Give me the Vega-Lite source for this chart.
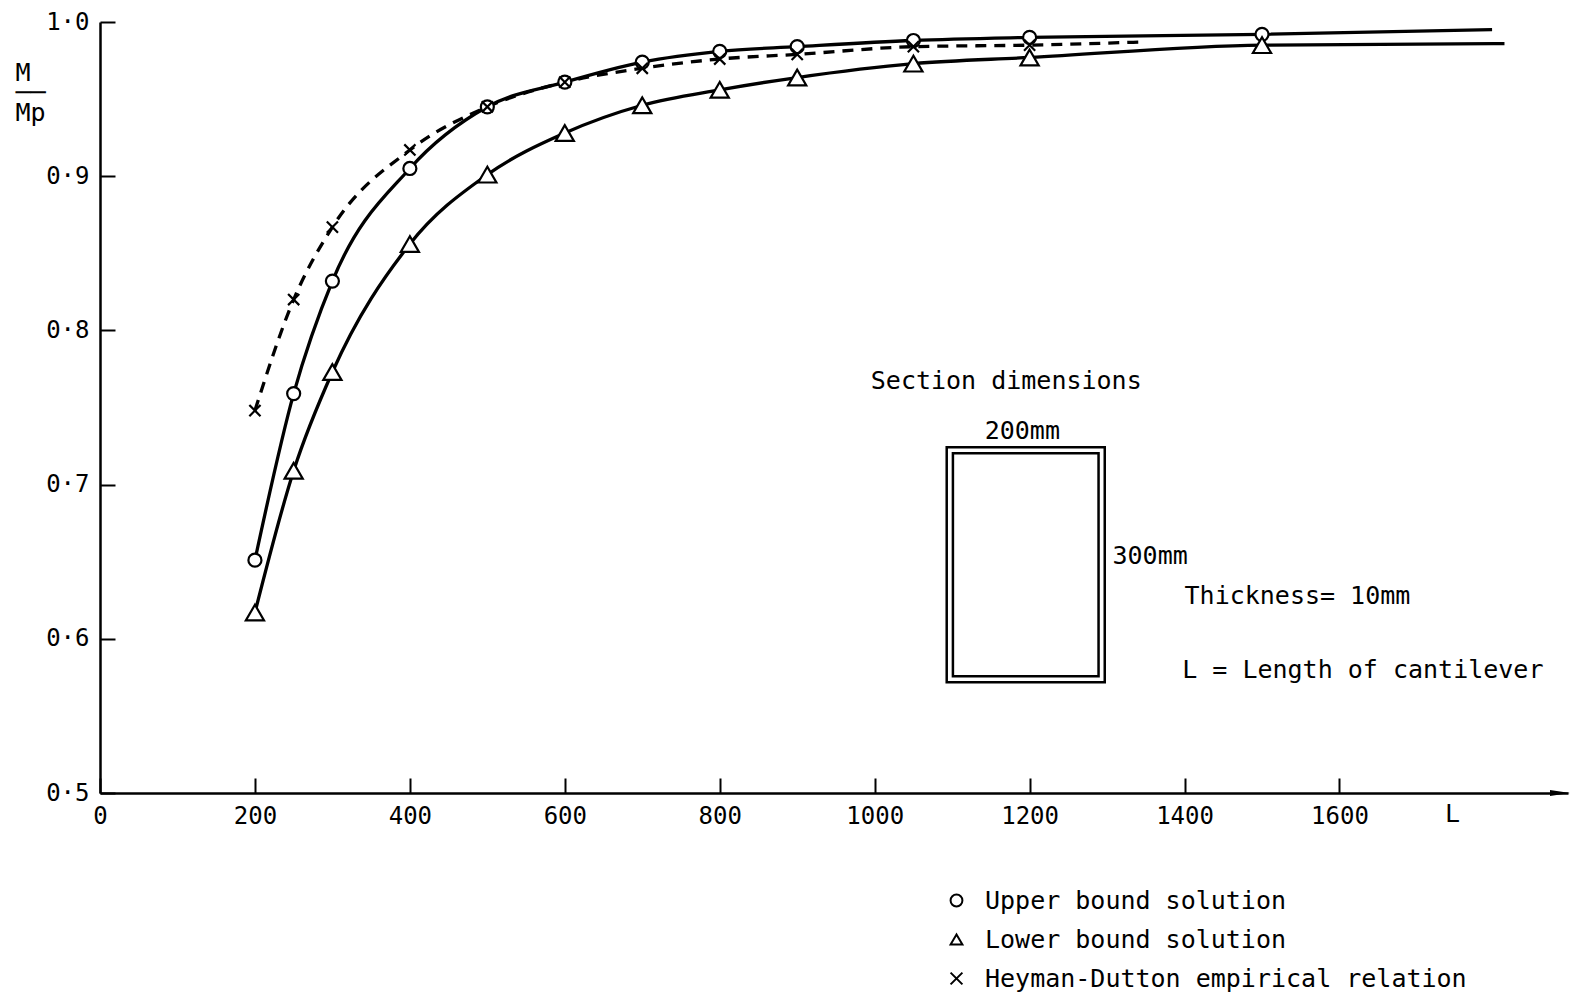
{
  "$schema": "https://vega.github.io/schema/vega-lite/v6.json",
  "width": 1468,
  "height": 771,
  "autosize": {"type": "none"},
  "padding": {"left": 100, "top": 22, "right": 2, "bottom": 202},
  "background": "white",
  "config": {
    "view": {"stroke": null},
    "font": "DejaVu Sans Mono",
    "axis": {
      "domainColor": "black", "domainWidth": 2.5, "tickColor": "black", "tickWidth": 2,
      "labelColor": "black", "labelFont": "DejaVu Sans Mono", "labelFontSize": 24,
      "titleColor": "black", "titleFont": "DejaVu Sans Mono", "titleFontSize": 25, "titleFontWeight": "normal",
      "grid": false, "labelFlush": false, "labelOverlap": false
    },
    "legend": {
      "orient": "none", "legendX": 844, "legendY": 866, "title": null, "padding": 0,
      "labelFont": "DejaVu Sans Mono", "labelFontSize": 25, "labelColor": "black", "labelOffset": 16,
      "symbolSize": 140, "symbolStrokeWidth": 2,
      "rowPadding": 13, "labelLimit": 800
    }
  },
  "datasets": {
    "curves": [
      {"series": "Upper bound solution", "L": 200, "m": 0.651, "marker": true},
      {"series": "Upper bound solution", "L": 250, "m": 0.759, "marker": true},
      {"series": "Upper bound solution", "L": 300, "m": 0.832, "marker": true},
      {"series": "Upper bound solution", "L": 400, "m": 0.905, "marker": true},
      {"series": "Upper bound solution", "L": 500, "m": 0.945, "marker": true},
      {"series": "Upper bound solution", "L": 600, "m": 0.961, "marker": true},
      {"series": "Upper bound solution", "L": 700, "m": 0.974, "marker": true},
      {"series": "Upper bound solution", "L": 800, "m": 0.981, "marker": true},
      {"series": "Upper bound solution", "L": 900, "m": 0.984, "marker": true},
      {"series": "Upper bound solution", "L": 1050, "m": 0.988, "marker": true},
      {"series": "Upper bound solution", "L": 1200, "m": 0.990, "marker": true},
      {"series": "Upper bound solution", "L": 1500, "m": 0.992, "marker": true},
      {"series": "Upper bound solution", "L": 1797, "m": 0.995, "marker": false},
      {"series": "Lower bound solution", "L": 200, "m": 0.617, "marker": true},
      {"series": "Lower bound solution", "L": 250, "m": 0.709, "marker": true},
      {"series": "Lower bound solution", "L": 300, "m": 0.773, "marker": true},
      {"series": "Lower bound solution", "L": 400, "m": 0.856, "marker": true},
      {"series": "Lower bound solution", "L": 500, "m": 0.901, "marker": true},
      {"series": "Lower bound solution", "L": 600, "m": 0.928, "marker": true},
      {"series": "Lower bound solution", "L": 700, "m": 0.946, "marker": true},
      {"series": "Lower bound solution", "L": 800, "m": 0.956, "marker": true},
      {"series": "Lower bound solution", "L": 900, "m": 0.964, "marker": true},
      {"series": "Lower bound solution", "L": 1050, "m": 0.973, "marker": true},
      {"series": "Lower bound solution", "L": 1200, "m": 0.977, "marker": true},
      {"series": "Lower bound solution", "L": 1500, "m": 0.985, "marker": true},
      {"series": "Lower bound solution", "L": 1813, "m": 0.986, "marker": false},
      {"series": "Heyman-Dutton empirical relation", "L": 200, "m": 0.748, "marker": true},
      {"series": "Heyman-Dutton empirical relation", "L": 250, "m": 0.820, "marker": true},
      {"series": "Heyman-Dutton empirical relation", "L": 300, "m": 0.867, "marker": true},
      {"series": "Heyman-Dutton empirical relation", "L": 400, "m": 0.917, "marker": true},
      {"series": "Heyman-Dutton empirical relation", "L": 500, "m": 0.945, "marker": true},
      {"series": "Heyman-Dutton empirical relation", "L": 600, "m": 0.961, "marker": true},
      {"series": "Heyman-Dutton empirical relation", "L": 700, "m": 0.970, "marker": true},
      {"series": "Heyman-Dutton empirical relation", "L": 800, "m": 0.976, "marker": true},
      {"series": "Heyman-Dutton empirical relation", "L": 900, "m": 0.979, "marker": true},
      {"series": "Heyman-Dutton empirical relation", "L": 1050, "m": 0.984, "marker": true},
      {"series": "Heyman-Dutton empirical relation", "L": 1200, "m": 0.985, "marker": true},
      {"series": "Heyman-Dutton empirical relation", "L": 1343, "m": 0.987, "marker": false}
    ],
    "box": [
      {"L": 1093, "L2": 1297, "m": 0.7242, "m2": 0.5718},
      {"L": 1101, "L2": 1289, "m": 0.7203, "m2": 0.5757}
    ],
    "notes": [
      {"L": 995, "m": 0.767, "label": "Section dimensions"},
      {"L": 1142, "m": 0.7346, "label": "200mm"},
      {"L": 1307, "m": 0.654, "label": "300mm"},
      {"L": 1400, "m": 0.6276, "label": "Thickness= 10mm"},
      {"L": 1397, "m": 0.5795, "label": "L = Length of cantilever"}
    ],
    "arrow": [{"L": 1885, "m": 0.5}]
  },
  "encoding": {
    "x": {
      "field": "L", "type": "quantitative",
      "scale": {"domain": [0, 1895], "nice": false, "zero": false},
      "axis": {
        "values": [0, 200, 400, 600, 800, 1000, 1200, 1400, 1600],
        "format": "d", "tickSize": -15, "labelPadding": 26,
        "title": "L", "titleX": 1352, "titleY": 20, "titleBaseline": "middle", "titleAlign": "center", "titleAngle": 0
      }
    },
    "y": {
      "field": "m", "type": "quantitative",
      "scale": {"domain": [0.5, 1.0], "nice": false, "zero": false},
      "axis": {
        "values": [0.5, 0.6, 0.7, 0.8, 0.9, 1.0],
        "tickSize": -15, "labelPadding": 26,
        "labelExpr": "replace(format(datum.value, '.1f'), '.', '·')",
        "title": ["M", "──", "Mp"], "titleAngle": 0, "titleX": -85, "titleY": 38,
        "titleAlign": "left", "titleBaseline": "top", "titleLineHeight": 20
      }
    }
  },
  "layer": [
    {
      "data": {"name": "box"},
      "mark": {"type": "rect", "fill": null, "stroke": "black", "strokeWidth": 2.5},
      "encoding": {"x2": {"field": "L2"}, "y2": {"field": "m2"}}
    },
    {
      "data": {"name": "notes"},
      "mark": {"type": "text", "font": "DejaVu Sans Mono", "fontSize": 25, "align": "left", "baseline": "middle", "color": "black"},
      "encoding": {"text": {"field": "label"}}
    },
    {
      "data": {"name": "arrow"},
      "mark": {"type": "point", "shape": "M-1,-0.3L1,0L-1,0.3Z", "size": 420, "filled": true, "color": "black", "opacity": 1},
      "encoding": {}
    },
    {
      "data": {"name": "curves"},
      "transform": [{"filter": "datum.series != 'Heyman-Dutton empirical relation'"}],
      "mark": {"type": "line", "interpolate": "monotone", "color": "black", "strokeWidth": 3.3},
      "encoding": {"detail": {"field": "series"}}
    },
    {
      "data": {"name": "curves"},
      "transform": [{"filter": "datum.series == 'Heyman-Dutton empirical relation'"}],
      "mark": {"type": "line", "interpolate": "monotone", "color": "black", "strokeWidth": 3.3, "strokeDash": [11, 8]},
      "encoding": {}
    },
    {
      "data": {"name": "curves"},
      "transform": [{"filter": "datum.marker && datum.series == 'Upper bound solution'"}],
      "mark": {"type": "point", "strokeWidth": 2.2, "opacity": 1, "fillOpacity": 1, "size": 170},
      "encoding": {
        "shape": {
          "field": "series", "type": "nominal",
          "scale": {"domain": ["Upper bound solution", "Lower bound solution", "Heyman-Dutton empirical relation"], "range": ["circle", "triangle-up", "M-1,-1L1,1M-1,1L1,-1"]}
        },
        "stroke": {
          "field": "series", "type": "nominal",
          "scale": {"domain": ["Upper bound solution", "Lower bound solution", "Heyman-Dutton empirical relation"], "range": ["black", "black", "black"]}
        },
        "fill": {
          "field": "series", "type": "nominal",
          "scale": {"domain": ["Upper bound solution", "Lower bound solution", "Heyman-Dutton empirical relation"], "range": ["white", "white", "white"]}
        }
      }
    },
    {
      "data": {"name": "curves"},
      "transform": [{"filter": "datum.marker && datum.series == 'Lower bound solution'"}],
      "mark": {"type": "point", "strokeWidth": 2.2, "opacity": 1, "fillOpacity": 1, "size": 330},
      "encoding": {
        "shape": {"field": "series", "type": "nominal"},
        "stroke": {"field": "series", "type": "nominal"},
        "fill": {"field": "series", "type": "nominal"}
      }
    },
    {
      "data": {"name": "curves"},
      "transform": [{"filter": "datum.marker && datum.series == 'Heyman-Dutton empirical relation'"}],
      "mark": {"type": "point", "strokeWidth": 2.2, "opacity": 1, "fillOpacity": 1, "size": 125},
      "encoding": {
        "shape": {"field": "series", "type": "nominal"},
        "stroke": {"field": "series", "type": "nominal"},
        "fill": {"field": "series", "type": "nominal"}
      }
    }
  ]
}
